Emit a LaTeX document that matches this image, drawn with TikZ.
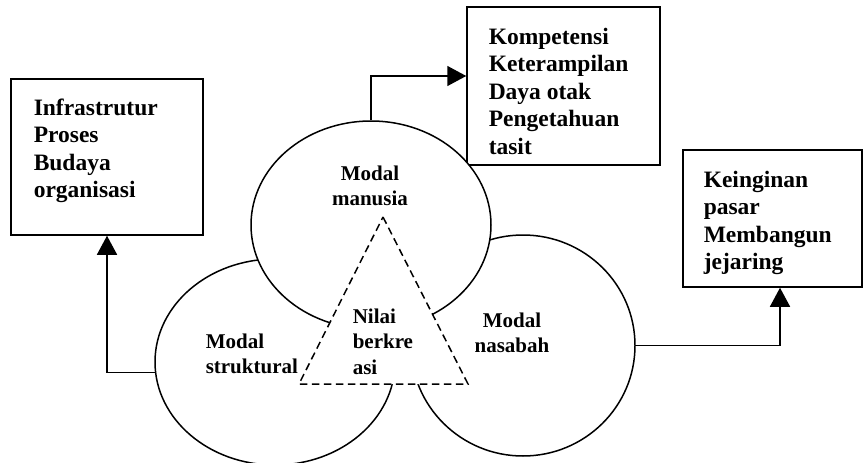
\documentclass[tikz,border=0pt]{standalone}
\usepackage{fontspec}
\setmainfont{Liberation Serif}
\usetikzlibrary{shapes.geometric,arrows.meta}
\begin{document}
\begin{tikzpicture}[x=1pt,y=-1pt, line width=1.5pt,
 boxtxt/.style={font=\fontsize{23.5}{27.5}\selectfont\bfseries, align=left, inner sep=0pt, anchor=north west},
 elltxt/.style={font=\fontsize{21}{25.5}\selectfont\bfseries, inner sep=0pt},
 blob/.style={ellipse, draw, fill=white, inner sep=0pt},
 frame/.style={draw, fill=white, inner sep=0pt},
 conn/.style={-{Triangle[length=19pt,width=20pt]}}
]
\useasboundingbox (0,0) rectangle (865,463);
% boxes
\node[frame, minimum width=192pt, minimum height=156pt] (ibox) at (107,157) {};
\node[frame, minimum width=193pt, minimum height=158pt] (kbox) at (563.5,86) {};
\node[frame, minimum width=179pt, minimum height=137pt] (jbox) at (772.5,218.5) {};
\node[boxtxt] (itxt) at (33,98) {Infrastrutur\\Proses\\Budaya\\organisasi};
\node[boxtxt] (ktxt) at (488,27) {Kompetensi\\Keterampilan\\Daya otak\\Pengetahuan\\tasit};
\node[boxtxt] (jtxt) at (703,170) {Keinginan\\pasar\\Membangun\\jejaring};
% ellipses
\node[blob, minimum width=240pt, minimum height=206pt] (str) at (275,362) {};
\node[blob, minimum width=224pt, minimum height=221pt] (nas) at (523,345.5) {};
\node[blob, minimum width=240pt, minimum height=208pt] (man) at (371,225) {};
% triangle
\coordinate (ta) at (383,217);
\coordinate (tl) at (299,384);
\coordinate (tr) at (468,384);
\draw[dash pattern=on 7.5pt off 4.5pt, fill=white] (ta) -- (tr) -- (tl) -- cycle;
% texts
\node[elltxt, align=center] (mantxt) at (370,186) {Modal\\manusia};
\node[elltxt, align=left, anchor=north west] (strtxt) at (205,333) {Modal\\struktural};
\node[elltxt, align=left, anchor=north west] (niltxt) at (352,308) {Nilai\\berkre\\asi};
\node[elltxt, align=center, anchor=north] (nastxt) at (512,312) {Modal\\nasabah};
% connectors
\draw[conn] (man.north) |- ([yshift=10pt]kbox.west);
\draw[conn] (str.185) -| (ibox.south);
\draw[conn] (nas.east) -| ([xshift=7.5pt]jbox.south);
\end{tikzpicture}
\end{document}
